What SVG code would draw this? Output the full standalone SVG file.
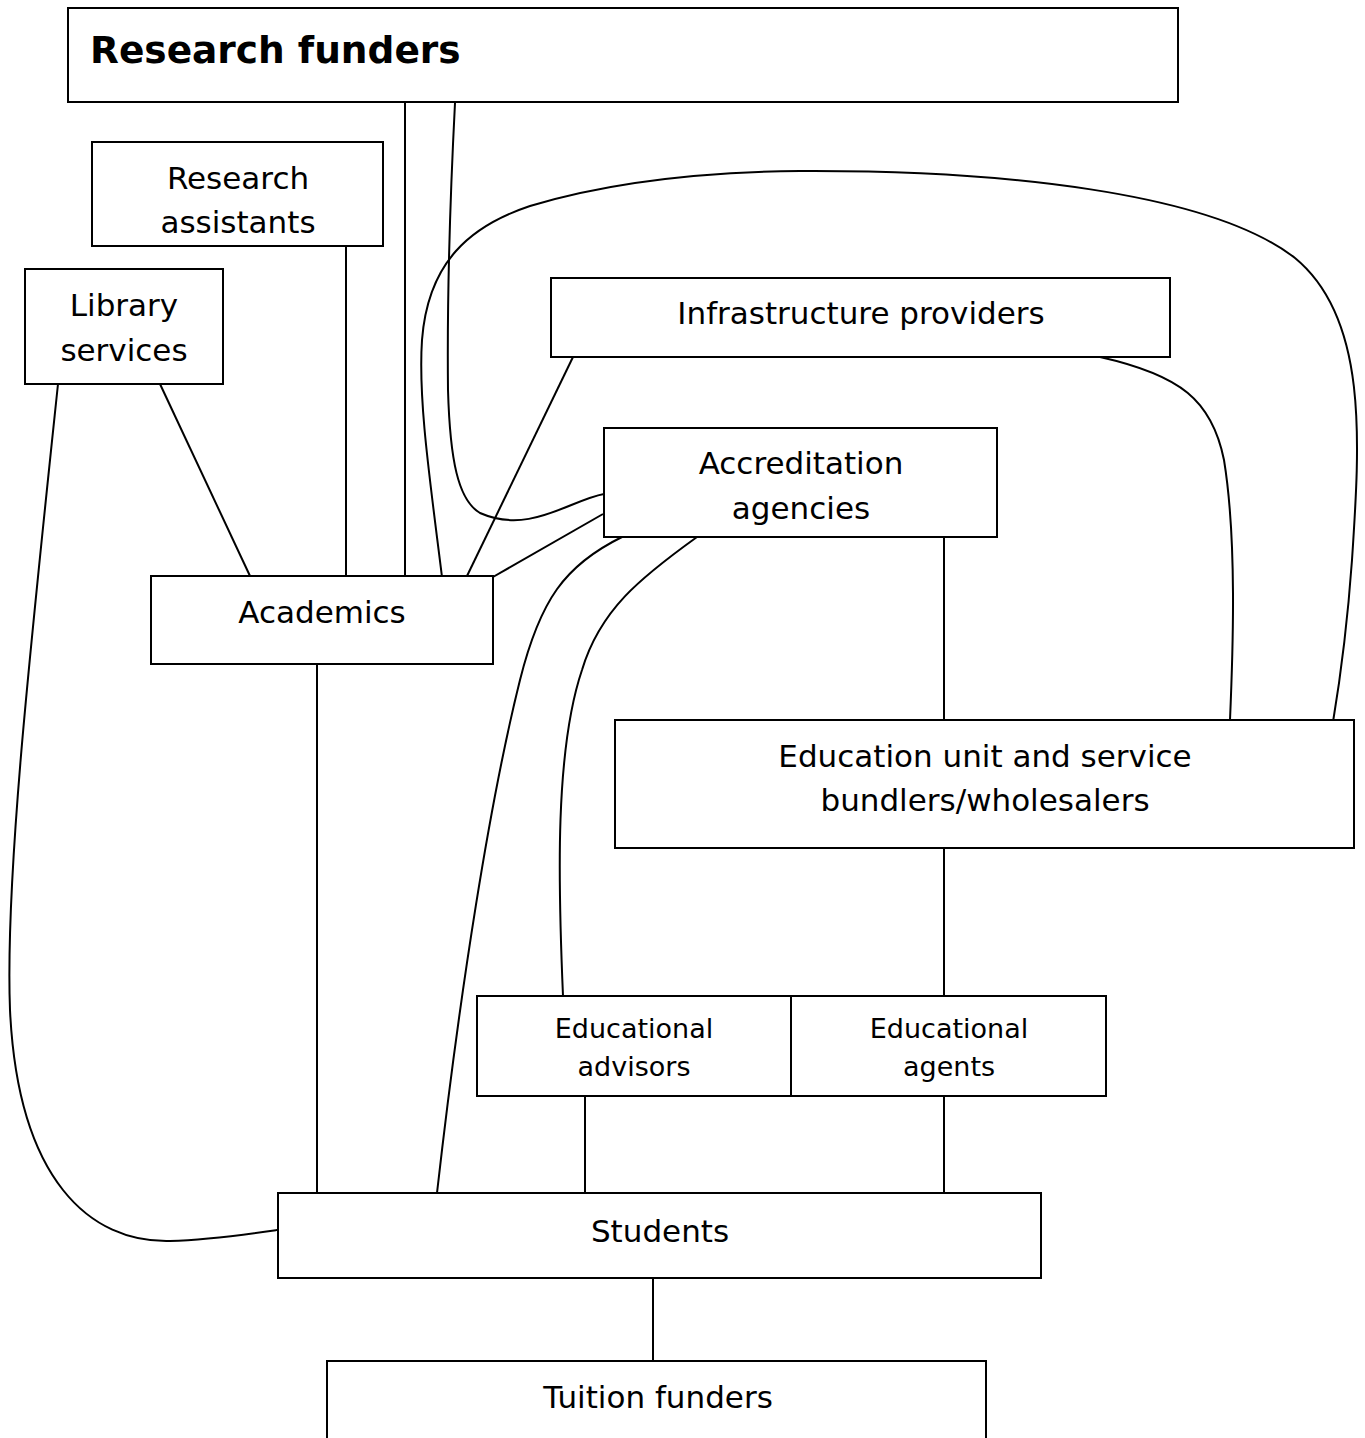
<svg xmlns="http://www.w3.org/2000/svg" width="1365" height="1438" viewBox="0 0 1365 1438">
<style>
rect{fill:#fff;stroke:#000;stroke-width:2}
text{font-family:"DejaVu Sans",Verdana,sans-serif;font-size:31px;fill:#000;text-anchor:middle}
.sm{font-size:27px}
.b{font-weight:bold;font-size:37.5px;text-anchor:start}
#connectors path,#connectors line{fill:none;stroke:#000;stroke-width:2}
</style>
<rect x="0" y="0" width="1365" height="1438" style="fill:#fff;stroke:none"/>
<g id="connectors">
<line x1="405" y1="102" x2="405" y2="576"/>
<path d="M455,103 C450,200 447,300 448,390 C450,460 458,500 480,513 C530,535 570,500 604,494"/>
<line x1="346" y1="246" x2="346" y2="576"/>
<line x1="160" y1="384" x2="250" y2="576"/>
<path d="M58,384 C30,650 5,880 10,1010 C18,1180 90,1243 170,1241 C210,1240 250,1234 277,1230"/>
<line x1="573" y1="357" x2="467" y2="576"/>
<path d="M442,577 C430,480 418,400 422,340 C428,262 470,226 530,206 C610,182 700,172 800,171 C1000,170 1210,192 1295,258 C1368,318 1360,440 1352,560 C1347,630 1340,680 1333,722"/>
<line x1="603" y1="514" x2="493" y2="577"/>
<path d="M622,537 C565,565 540,600 520,680 C490,800 460,990 437,1193"/>
<path d="M697,537 C640,578 600,610 582,670 C555,750 558,880 563,996"/>
<line x1="944" y1="537" x2="944" y2="720"/>
<path d="M1100,357 C1180,375 1212,400 1224,460 C1237,540 1233,650 1230,720"/>
<line x1="944" y1="848" x2="944" y2="996"/>
<line x1="585" y1="1096" x2="585" y2="1193"/>
<line x1="944" y1="1096" x2="944" y2="1193"/>
<line x1="317" y1="664" x2="317" y2="1193"/>
<line x1="653" y1="1278" x2="653" y2="1361"/>
</g>
<g id="research-funders"><rect x="68" y="8" width="1110" height="94"/><text class="b" x="90" y="63">Research funders</text></g>
<g id="research-assistants"><rect x="92" y="142" width="291" height="104"/><text x="238" y="189">Research</text><text x="238" y="233">assistants</text></g>
<g id="library-services"><rect x="25" y="269" width="198" height="115"/><text x="124" y="316">Library</text><text x="124" y="361">services</text></g>
<g id="infrastructure-providers"><rect x="551" y="278" width="619" height="79"/><text x="861" y="324">Infrastructure providers</text></g>
<g id="accreditation-agencies"><rect x="604" y="428" width="393" height="109"/><text x="801" y="474">Accreditation</text><text x="801" y="519">agencies</text></g>
<g id="academics"><rect x="151" y="576" width="342" height="88"/><text x="322" y="623">Academics</text></g>
<g id="education-unit"><rect x="615" y="720" width="739" height="128"/><text x="985" y="767">Education unit and service</text><text x="985" y="811">bundlers/wholesalers</text></g>
<g id="educational-advisors"><rect x="477" y="996" width="314" height="100"/><text class="sm" x="634" y="1038">Educational</text><text class="sm" x="634" y="1076">advisors</text></g>
<g id="educational-agents"><rect x="791" y="996" width="315" height="100"/><text class="sm" x="949" y="1038">Educational</text><text class="sm" x="949" y="1076">agents</text></g>
<g id="students"><rect x="278" y="1193" width="763" height="85"/><text x="660" y="1242">Students</text></g>
<g id="tuition-funders"><rect x="327" y="1361" width="659" height="100"/><text x="658" y="1408">Tuition funders</text></g>
</svg>
